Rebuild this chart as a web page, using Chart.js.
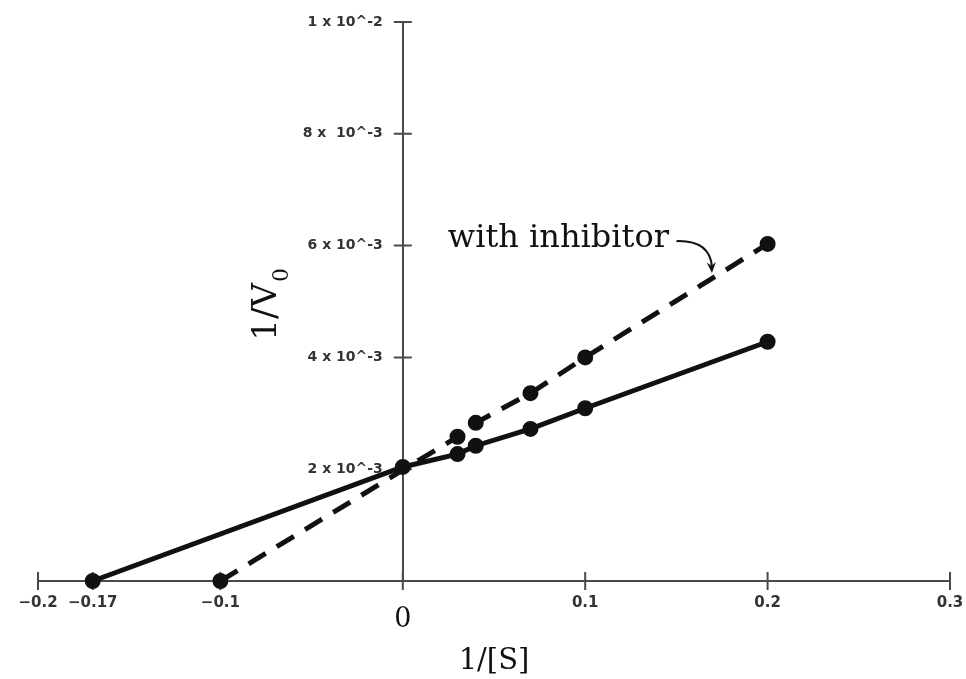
<!DOCTYPE html>
<html>
<head>
<meta charset="utf-8">
<script src="https://cdn.jsdelivr.net/npm/chart.js@4.4.1/dist/chart.umd.min.js"></script>
<style>
  html, body { margin: 0; padding: 0; background: #fff; }
  #wrap { width: 966px; height: 679px; }
</style>
</head>
<body>
<div id="wrap"><canvas id="chart" width="966" height="679"></canvas></div>
<script>
// values
const xTickValues = [-0.2, -0.17, -0.1, 0, 0.1, 0.2, 0.3];
const xTickLabels = ['\u22120.2', '\u22120.17', '\u22120.1', '0', '0.1', '0.2', '0.3'];
const yTickValues = [0.002, 0.004, 0.006, 0.008, 0.01];
const yTickLabels = ['2 x 10^-3', '4 x 10^-3', '6 x 10^-3', '8 x  10^-3', '1 x 10^-2'];

const noInhibitorX = [-0.17, 0, 0.03, 0.04, 0.07, 0.1, 0.2];
const noInhibitorY = [0, 0.00204, 0.00227, 0.00242, 0.00272, 0.00309, 0.00428];
const inhibitorX = [-0.1, 0.03, 0.04, 0.07, 0.1, 0.2];
const inhibitorY = [0, 0.00258, 0.00283, 0.00336, 0.0040, 0.00603];

// annotation anchors, in data units
const labelAt = { x: 0.0247, y: 0.00598 };
const arrowFrom = { x: 0.150, y: 0.00608 };
const arrowTo = { x: 0.1695, y: 0.00551 };

const toPoints = (xs, ys) => xs.map((x, i) => ({ x: x, y: ys[i] }));

const axisColor = '#4a4a4a';

// tick marks that cross the axis lines, y tick labels, titles and the note
const extras = {
  id: 'extras',
  beforeDatasetsDraw(chart) {
    const { ctx, scales: { x, y } } = chart;
    const ax = x.getPixelForValue(0);
    const ay = y.getPixelForValue(0);
    ctx.save();
    ctx.strokeStyle = axisColor;
    ctx.lineWidth = 2;
    ctx.beginPath();
    xTickValues.forEach((v) => {
      const px = x.getPixelForValue(v);
      ctx.moveTo(px, ay - 9);
      ctx.lineTo(px, ay + 9);
    });
    yTickValues.forEach((v) => {
      const py = y.getPixelForValue(v);
      ctx.moveTo(ax - 9, py);
      ctx.lineTo(ax + 9, py);
    });
    ctx.stroke();

    // y tick labels sit left of the centred axis
    ctx.fillStyle = '#333';
    ctx.font = 'bold 14px "DejaVu Sans"';
    ctx.textAlign = 'right';
    ctx.textBaseline = 'middle';
    yTickValues.forEach((v, i) => {
      ctx.fillText(yTickLabels[i], ax - 20, y.getPixelForValue(v));
    });
    ctx.restore();
  },
  afterDraw(chart) {
    const { ctx, scales: { x, y } } = chart;
    ctx.save();
    ctx.fillStyle = '#111';
    ctx.strokeStyle = '#111';

    // y axis title 1/V0, rotated
    const tx = x.getPixelForValue(0) - 127;
    const ty = y.getPixelForValue(0.0043);
    ctx.translate(tx, ty);
    ctx.rotate(-Math.PI / 2);
    ctx.textAlign = 'left';
    ctx.textBaseline = 'alphabetic';
    ctx.font = '34px "DejaVu Serif"';
    ctx.fillText('1/V', 0, 0);
    const w = ctx.measureText('1/V').width;
    ctx.font = '22px "DejaVu Serif"';
    ctx.fillText('0', w + 1, 12);
    ctx.setTransform(1, 0, 0, 1, 0, 0);

    // "with inhibitor" label and curved arrow
    ctx.font = '32px "DejaVu Serif"';
    ctx.fillText('with inhibitor', x.getPixelForValue(labelAt.x), y.getPixelForValue(labelAt.y));

    const sx = x.getPixelForValue(arrowFrom.x), sy = y.getPixelForValue(arrowFrom.y);
    const ex = x.getPixelForValue(arrowTo.x), ey = y.getPixelForValue(arrowTo.y);
    const cx = ex - 2, cy = sy - 1;
    ctx.lineWidth = 2;
    ctx.beginPath();
    ctx.moveTo(sx, sy);
    ctx.quadraticCurveTo(cx, cy, ex, ey - 6);
    ctx.stroke();
    const ang = Math.atan2(ey - cy, ex - cx);
    ctx.beginPath();
    ctx.moveTo(ex, ey);
    ctx.lineTo(ex - 12 * Math.cos(ang - 0.4), ey - 12 * Math.sin(ang - 0.4));
    ctx.lineTo(ex - 7 * Math.cos(ang), ey - 7 * Math.sin(ang));
    ctx.lineTo(ex - 12 * Math.cos(ang + 0.4), ey - 12 * Math.sin(ang + 0.4));
    ctx.closePath();
    ctx.fill();
    ctx.restore();
  }
};

const canvas = document.getElementById('chart');
const ctx = canvas.getContext('2d');
new Chart(ctx, {
  type: 'scatter',
  data: {
    datasets: [
      {
        label: 'no inhibitor',
        data: toPoints(noInhibitorX, noInhibitorY),
        showLine: true,
        borderColor: '#111',
        backgroundColor: '#111',
        borderWidth: 5,
        pointRadius: 5.5,
        pointHoverRadius: 5.5,
        clip: false,
      },
      {
        label: 'with inhibitor',
        data: toPoints(inhibitorX, inhibitorY),
        showLine: true,
        borderColor: '#111',
        backgroundColor: '#111',
        borderWidth: 5,
        borderDash: [20, 13],
        pointRadius: 5.5,
        pointHoverRadius: 5.5,
        clip: false,
      },
    ],
  },
  options: {
    responsive: false,
    animation: false,
    events: [],
    layout: { padding: { top: 22, left: 38, right: 16, bottom: 0 } },
    plugins: {
      legend: { display: false },
      tooltip: { enabled: false },
    },
    scales: {
      x: {
        type: 'linear',
        position: 'bottom',
        min: -0.2,
        max: 0.3,
        afterBuildTicks: (scale) => {
          scale.ticks = xTickValues.map((v) => ({ value: v }));
        },
        afterFit: (scale) => {
          scale.height = 98;
          scale.paddingLeft = 0;
          scale.paddingRight = 0;
        },
        grid: { display: false, drawTicks: false },
        border: { display: true, color: axisColor, width: 2 },
        ticks: {
          autoSkip: false,
          maxRotation: 0,
          padding: 13,
          color: (c) => (c.tick && c.tick.value === 0 ? '#111' : '#333'),
          font: (c) =>
            c.tick && c.tick.value === 0
              ? { family: '"DejaVu Serif"', size: 27, weight: 'normal', lineHeight: 1.9 }
              : { family: '"DejaVu Sans"', size: 15, weight: 'bold' },
          callback: (value, index) => xTickLabels[index],
        },
        title: {
          display: true,
          text: '1/[S]',
          color: '#111',
          font: { family: '"DejaVu Serif"', size: 29 },
          padding: 0,
        },
      },
      y: {
        type: 'linear',
        position: { x: 0 },
        min: 0,
        max: 0.01,
        afterBuildTicks: (scale) => {
          scale.ticks = yTickValues.map((v) => ({ value: v }));
        },
        grid: { display: false, drawTicks: false },
        border: { display: true, color: axisColor, width: 2 },
        ticks: { display: false },
      },
    },
  },
  plugins: [extras],
});
</script>
</body>
</html>
